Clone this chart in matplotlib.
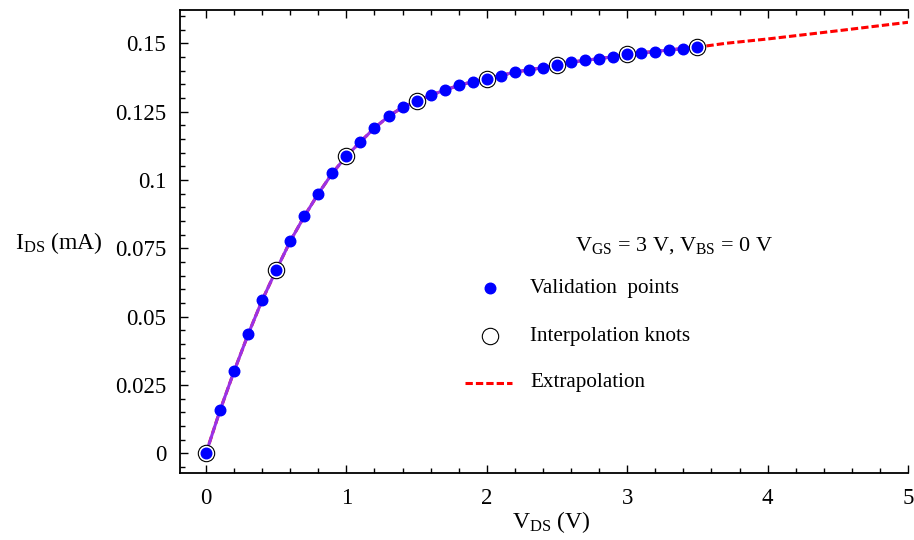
import matplotlib
matplotlib.use("Agg")
import matplotlib.pyplot as plt
from matplotlib.lines import Line2D
from matplotlib.ticker import MultipleLocator, FuncFormatter

plt.rcParams["font.family"] = ["Liberation Serif", "DejaVu Serif"]
plt.rcParams["mathtext.fontset"] = "custom"
plt.rcParams["mathtext.rm"] = "Liberation Serif"
plt.rcParams["mathtext.it"] = "Liberation Serif:italic"

# Drain current of the MOSFET model (V_GS = 3 V, V_BS = 0 V)
vds_valid = [0.0, 0.1, 0.2, 0.3, 0.4, 0.5, 0.6, 0.7, 0.8, 0.9,
             1.0, 1.1, 1.2, 1.3, 1.4, 1.5, 1.6, 1.7, 1.8, 1.9,
             2.0, 2.1, 2.2, 2.3, 2.4, 2.5, 2.6, 2.7, 2.8, 2.9,
             3.0, 3.1, 3.2, 3.3, 3.4, 3.5]
ids_valid = [0.0, 0.0157, 0.0300, 0.0435, 0.0560, 0.0670, 0.0776, 0.0867, 0.0950, 0.1025,
             0.1087, 0.1140, 0.1190, 0.1233, 0.1266, 0.1289, 0.1310, 0.1329, 0.1346, 0.1360,
             0.1371, 0.1382, 0.1395, 0.1403, 0.1411, 0.1421, 0.1431, 0.1438, 0.1444, 0.1451,
             0.1460, 0.1466, 0.1470, 0.1476, 0.1481, 0.1486]

vds_knots = [0.0, 0.5, 1.0, 1.5, 2.0, 2.5, 3.0, 3.5]
ids_knots = [0.0, 0.0670, 0.1087, 0.1289, 0.1371, 0.1421, 0.1460, 0.1486]

vds_extrap = [3.5, 3.7, 4.0, 4.5, 5.0]
ids_extrap = [0.1486, 0.1500, 0.1516, 0.1546, 0.1577]

AX_L, AX_R, AX_T, AX_B = 180, 908, 10, 473
fig = plt.figure(figsize=(9.14, 5.40), dpi=100)
ax = fig.add_axes([AX_L / 914, 1 - AX_B / 540, (AX_R - AX_L) / 914, (AX_B - AX_T) / 540])

red = "#ff0000"
purple = "#9a32e6"
blue = "#0000ff"

# dashed model line (interpolated range + extrapolation)
ax.plot(vds_valid + vds_extrap[1:], ids_valid + ids_extrap[1:], color=red,
        lw=2.2, dashes=(2.4, 1.0), zorder=2)
# interpolating curve
ax.plot(vds_valid, ids_valid, color=purple, lw=2.2, zorder=3, solid_capstyle="round")
# knots and validation points
ax.plot(vds_knots, ids_knots, linestyle="none", marker="o", ms=11.8,
        mfc="white", mec="black", mew=0.8, zorder=4)
ax.plot(vds_valid, ids_valid, linestyle="none", marker="o", ms=7.6,
        mfc=blue, mec=blue, zorder=5)

ax.set_xlim(-0.185, 5.0)
ax.set_ylim(-0.0072, 0.1622)

ax.xaxis.set_major_locator(MultipleLocator(1))
ax.xaxis.set_minor_locator(MultipleLocator(0.2))
ax.yaxis.set_major_locator(MultipleLocator(0.025))
ax.yaxis.set_minor_locator(MultipleLocator(0.005))
ax.yaxis.set_major_formatter(FuncFormatter(lambda v, p: "%g" % round(v, 4)))
ax.xaxis.set_major_formatter(FuncFormatter(lambda v, p: "%g" % round(v, 4)))

ax.spines["right"].set_visible(False)
for s in ("left", "bottom", "top"):
    ax.spines[s].set_linewidth(1.3)

ax.tick_params(which="both", direction="in", top=True, right=False,
               labelsize=16.5, width=1.0, color="black")
ax.tick_params(which="major", length=6)
ax.tick_params(which="minor", length=3.5)
ax.tick_params(axis="x", which="major", pad=10.5)
ax.tick_params(axis="y", which="major", pad=10)

fig.text(15 / 914, 1 - 243 / 540, r"I$_{\rm DS}$ (mA)", fontsize=17, ha="left", va="center")
fig.text(551 / 914, 1 - 522 / 540, r"V$_{\rm DS}$ (V)", fontsize=17, ha="center", va="center")

# key
def ax_frac(px, py):
    return (px - AX_L) / (AX_R - AX_L), 1 - (py - AX_T) / (AX_B - AX_T)

tx, ty = ax_frac(674, 246)
ax.text(tx, ty, r"V$_{\rm GS}$ = 3 V, V$_{\rm BS}$ = 0 V", transform=ax.transAxes,
        fontsize=16, ha="center", va="center")

mx, my1 = ax_frac(490, 288)
_, my2 = ax_frac(490, 336)
lx0, my3 = ax_frac(465, 383)
lx1, _ = ax_frac(512, 383)
txl, _ = ax_frac(530, 0)

ax.add_line(Line2D([mx], [my1], transform=ax.transAxes, marker="o", ms=7.6,
                   mfc=blue, mec=blue, linestyle="none"))
ax.add_line(Line2D([mx], [my2], transform=ax.transAxes, marker="o", ms=11.8,
                   mfc="white", mec="black", mew=0.8, linestyle="none"))
ax.add_line(Line2D([lx0, lx1], [my3, my3], transform=ax.transAxes, color=red,
                   lw=2.2, dashes=(2.4, 1.0)))
for yy, label in ((my1, "Validation  points"), (my2, "Interpolation knots"),
                  (my3, "Extrapolation")):
    ax.text(txl, yy, label, transform=ax.transAxes, fontsize=15.2,
            ha="left", va="center")

fig.savefig("out.png", dpi=100)
